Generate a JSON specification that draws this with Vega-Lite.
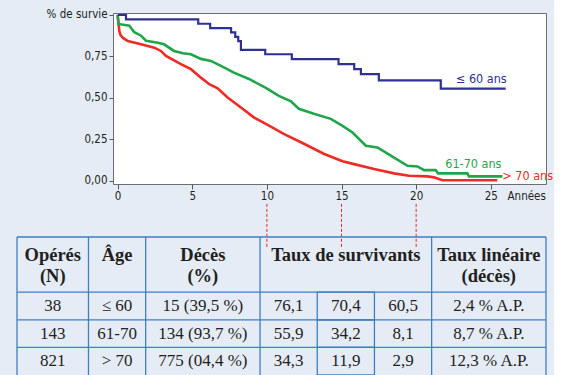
{
  "$schema": "https://vega.github.io/schema/vega-lite/v6.json",
  "background": "#e5ecf6",
  "padding": {"left": 16, "top": 8, "right": 0, "bottom": 0},
  "autosize": {"type": "pad"},
  "config": {
    "view": {"stroke": null},
    "axis": {
      "labelFont": "Liberation Sans Narrow, DejaVu Sans Condensed, sans-serif",
      "titleFont": "Liberation Sans Narrow, DejaVu Sans Condensed, sans-serif",
      "labelFontSize": 11.5,
      "titleFontSize": 11.5,
      "labelColor": "#231f20",
      "titleColor": "#231f20",
      "tickColor": "#58595b",
      "domain": false,
      "grid": false
    }
  },
  "datasets": {
    "km": [
      {"g": "> 70 ans", "t": 0, "v": 1.0},
      {"g": "> 70 ans", "t": 0.06, "v": 0.952},
      {"g": "> 70 ans", "t": 0.11, "v": 0.904},
      {"g": "> 70 ans", "t": 0.19, "v": 0.88},
      {"g": "> 70 ans", "t": 0.34, "v": 0.863},
      {"g": "> 70 ans", "t": 0.68, "v": 0.843},
      {"g": "> 70 ans", "t": 1.57, "v": 0.823},
      {"g": "> 70 ans", "t": 2.46, "v": 0.803},
      {"g": "> 70 ans", "t": 2.9, "v": 0.783},
      {"g": "> 70 ans", "t": 3.24, "v": 0.753},
      {"g": "> 70 ans", "t": 4.24, "v": 0.703},
      {"g": "> 70 ans", "t": 4.91, "v": 0.673},
      {"g": "> 70 ans", "t": 5.58, "v": 0.622},
      {"g": "> 70 ans", "t": 6.14, "v": 0.582},
      {"g": "> 70 ans", "t": 6.7, "v": 0.558},
      {"g": "> 70 ans", "t": 7.37, "v": 0.502},
      {"g": "> 70 ans", "t": 8.26, "v": 0.442},
      {"g": "> 70 ans", "t": 9.15, "v": 0.381},
      {"g": "> 70 ans", "t": 10.05, "v": 0.337},
      {"g": "> 70 ans", "t": 11.16, "v": 0.281},
      {"g": "> 70 ans", "t": 12.28, "v": 0.232},
      {"g": "> 70 ans", "t": 13.84, "v": 0.161},
      {"g": "> 70 ans", "t": 15.07, "v": 0.117},
      {"g": "> 70 ans", "t": 15.84, "v": 0.1},
      {"g": "> 70 ans", "t": 17.18, "v": 0.07},
      {"g": "> 70 ans", "t": 18.52, "v": 0.044},
      {"g": "> 70 ans", "t": 19.52, "v": 0.03},
      {"g": "> 70 ans", "t": 20.76, "v": 0.026},
      {"g": "> 70 ans", "t": 21.2, "v": 0.02},
      {"g": "> 70 ans", "t": 21.76, "v": 0.003},
      {"g": "> 70 ans", "t": 25.44, "v": 0.003},
      {"g": "61-70 ans", "t": 0, "v": 1.0},
      {"g": "61-70 ans", "t": 0.05, "v": 0.946},
      {"g": "61-70 ans", "t": 0.78, "v": 0.936},
      {"g": "61-70 ans", "t": 1.12, "v": 0.896},
      {"g": "61-70 ans", "t": 1.57, "v": 0.875},
      {"g": "61-70 ans", "t": 1.9, "v": 0.845},
      {"g": "61-70 ans", "t": 2.7, "v": 0.833},
      {"g": "61-70 ans", "t": 3.11, "v": 0.823},
      {"g": "61-70 ans", "t": 3.78, "v": 0.783},
      {"g": "61-70 ans", "t": 4.38, "v": 0.769},
      {"g": "61-70 ans", "t": 4.91, "v": 0.763},
      {"g": "61-70 ans", "t": 5.58, "v": 0.735},
      {"g": "61-70 ans", "t": 6.25, "v": 0.723},
      {"g": "61-70 ans", "t": 6.92, "v": 0.693},
      {"g": "61-70 ans", "t": 7.79, "v": 0.652},
      {"g": "61-70 ans", "t": 8.8, "v": 0.614},
      {"g": "61-70 ans", "t": 9.93, "v": 0.56},
      {"g": "61-70 ans", "t": 10.8, "v": 0.512},
      {"g": "61-70 ans", "t": 11.61, "v": 0.479},
      {"g": "61-70 ans", "t": 12.14, "v": 0.434},
      {"g": "61-70 ans", "t": 13.15, "v": 0.404},
      {"g": "61-70 ans", "t": 14.28, "v": 0.373},
      {"g": "61-70 ans", "t": 15.07, "v": 0.331},
      {"g": "61-70 ans", "t": 15.74, "v": 0.291},
      {"g": "61-70 ans", "t": 16.63, "v": 0.211},
      {"g": "61-70 ans", "t": 17.41, "v": 0.201},
      {"g": "61-70 ans", "t": 18.3, "v": 0.151},
      {"g": "61-70 ans", "t": 19.42, "v": 0.09},
      {"g": "61-70 ans", "t": 20.09, "v": 0.086},
      {"g": "61-70 ans", "t": 20.53, "v": 0.064},
      {"g": "61-70 ans", "t": 21.31, "v": 0.064},
      {"g": "61-70 ans", "t": 21.47, "v": 0.044},
      {"g": "61-70 ans", "t": 23.43, "v": 0.044},
      {"g": "61-70 ans", "t": 23.54, "v": 0.026},
      {"g": "61-70 ans", "t": 25.78, "v": 0.026},
      {"g": "≤ 60 ans", "t": 0, "v": 1.0},
      {"g": "≤ 60 ans", "t": 0.56, "v": 0.974},
      {"g": "≤ 60 ans", "t": 5.4, "v": 0.947},
      {"g": "≤ 60 ans", "t": 6.2, "v": 0.921},
      {"g": "≤ 60 ans", "t": 7.6, "v": 0.895},
      {"g": "≤ 60 ans", "t": 7.88, "v": 0.868},
      {"g": "≤ 60 ans", "t": 8.08, "v": 0.842},
      {"g": "≤ 60 ans", "t": 8.26, "v": 0.789},
      {"g": "≤ 60 ans", "t": 9.89, "v": 0.763},
      {"g": "≤ 60 ans", "t": 11.67, "v": 0.734},
      {"g": "≤ 60 ans", "t": 14.8, "v": 0.704},
      {"g": "≤ 60 ans", "t": 15.85, "v": 0.673},
      {"g": "≤ 60 ans", "t": 16.3, "v": 0.643},
      {"g": "≤ 60 ans", "t": 17.5, "v": 0.605},
      {"g": "≤ 60 ans", "t": 21.65, "v": 0.556},
      {"g": "≤ 60 ans", "t": 26.0, "v": 0.556}
    ]
  },
  "spacing": 224,
  "bounds": "flush",
  "vconcat": [
    {
      "spacing": 0,
      "bounds": "flush",
      "hconcat": [
        {
          "width": 96,
          "height": 171,
          "view": {"stroke": null, "fill": null},
          "data": {"values": []},
          "mark": "point",
          "encoding": {}
        },
        {
          "width": 433,
          "height": 171,
          "view": {"fill": "#ffffff", "stroke": "#6d6e71", "strokeWidth": 1},
          "layer": [
            {
              "data": {"values": [{"t": 10}, {"t": 15}, {"t": 20}]},
              "mark": {"type": "rule", "color": "#e8262b", "strokeWidth": 1, "strokeDash": [3, 2], "clip": false},
              "encoding": {
                "x": {
                  "field": "t",
                  "type": "quantitative",
                  "scale": {"domain": [-0.31, 28.7], "nice": false, "zero": false},
                  "axis": {
                    "values": [0, 5, 10, 15, 20, 25],
                    "tickSize": 5,
                    "labelPadding": 1,
                    "title": "Années",
                    "titleFontWeight": "normal",
                    "titleAnchor": "start",
                    "titleAlign": "left",
                    "titleBaseline": "top",
                    "titleX": 394,
                    "titleY": 6,
                    "titleAngle": 0
                  }
                },
                "y": {
                  "datum": -0.14,
                  "type": "quantitative",
                  "scale": {"domain": [-0.02, 1.012], "nice": false, "zero": false},
                  "axis": {
                    "values": [0, 0.25, 0.5, 0.75, 1],
                    "tickSize": 4,
                    "labelPadding": 2,
                    "title": null,
                    "labelExpr": "datum.value == 1 ? '% de survie' : replace(format(datum.value, '.2f'), '.', ',')"
                  }
                },
                "y2": {"datum": -0.41}
              }
            },
            {
              "data": {"name": "km"},
              "transform": [{"filter": "datum.g != '≤ 60 ans'"}],
              "mark": {"type": "line", "strokeWidth": 2.6, "interpolate": "linear"},
              "encoding": {
                "x": {"field": "t", "type": "quantitative"},
                "y": {"field": "v", "type": "quantitative"},
                "color": {
                  "field": "g",
                  "type": "nominal",
                  "scale": {"domain": ["≤ 60 ans", "61-70 ans", "> 70 ans"], "range": ["#2e3192", "#1fa64a", "#ee2b24"]},
                  "legend": null
                }
              }
            },
            {
              "data": {"name": "km"},
              "transform": [{"filter": "datum.g == '≤ 60 ans'"}],
              "mark": {"type": "line", "strokeWidth": 2.2, "interpolate": "step-after", "color": "#2e3192"},
              "encoding": {
                "x": {"field": "t", "type": "quantitative"},
                "y": {"field": "v", "type": "quantitative"}
              }
            },
            {
              "data": {"name": "km"},
              "transform": [
                {"filter": "datum.g == '≤ 60 ans'"},
                {"joinaggregate": [{"op": "max", "field": "t", "as": "tmax"}]},
                {"filter": "datum.t == datum.tmax"}
              ],
              "mark": {"type": "text", "align": "right", "baseline": "middle", "dx": 1, "dy": -9.5, "font": "Liberation Sans Narrow, DejaVu Sans Condensed, sans-serif", "fontSize": 12.5, "color": "#2e3192"},
              "encoding": {
                "x": {"field": "t", "type": "quantitative"},
                "y": {"field": "v", "type": "quantitative"},
                "text": {"field": "g"}
              }
            },
            {
              "data": {"name": "km"},
              "transform": [
                {"filter": "datum.g == '61-70 ans'"},
                {"joinaggregate": [{"op": "max", "field": "t", "as": "tmax"}]},
                {"filter": "datum.t == datum.tmax"}
              ],
              "mark": {"type": "text", "align": "right", "baseline": "middle", "dx": -1, "dy": -12, "font": "Liberation Sans Narrow, DejaVu Sans Condensed, sans-serif", "fontSize": 12.5, "color": "#1fa64a"},
              "encoding": {
                "x": {"field": "t", "type": "quantitative"},
                "y": {"field": "v", "type": "quantitative"},
                "text": {"field": "g"}
              }
            },
            {
              "data": {"name": "km"},
              "transform": [
                {"filter": "datum.g == '> 70 ans'"},
                {"joinaggregate": [{"op": "max", "field": "t", "as": "tmax"}]},
                {"filter": "datum.t == datum.tmax"}
              ],
              "mark": {"type": "text", "align": "left", "baseline": "middle", "dx": 5, "dy": -4, "font": "Liberation Sans Narrow, DejaVu Sans Condensed, sans-serif", "fontSize": 12.5, "color": "#ee2b24"},
              "encoding": {
                "x": {"field": "t", "type": "quantitative"},
                "y": {"field": "v", "type": "quantitative"},
                "text": {"field": "g"}
              }
            }
          ]
        }
      ]
    },
    {
      "width": 529,
      "height": 138,
      "view": {"stroke": null, "fill": null},
      "layer": [
        {
          "data": {"values": [{"c": 0}, {"c": 5}, {"c": 9}, {"c": 17}, {"c": 29}, {"c": 37}]},
          "mark": {"type": "rule", "color": "#3f7fc2", "strokeWidth": 1.3},
          "encoding": {
            "x": {"field": "c", "type": "quantitative", "scale": {"domain": [0, 37], "nice": false, "zero": false}, "axis": null}
          }
        },
        {
          "data": {"values": [{"r": "h"}, {"r": "r1"}, {"r": "r2"}, {"r": "r3"}]},
          "mark": {"type": "rule", "color": "#3f7fc2", "strokeWidth": 1.3},
          "encoding": {
            "y": {"field": "r", "type": "ordinal", "bandPosition": 0, "scale": {"domain": ["h", "h2", "r1", "r2", "r3"], "paddingInner": 0, "paddingOuter": 0}, "axis": null}
          }
        },
        {
          "data": {"values": [{"r": "r1"}, {"r": "r2"}, {"r": "r3"}]},
          "mark": {"type": "rect", "fill": null, "stroke": "#3f7fc2", "strokeWidth": 1.3},
          "encoding": {
            "x": {"datum": 21, "type": "quantitative"},
            "x2": {"datum": 25},
            "y": {"field": "r", "type": "ordinal", "axis": null}
          }
        },
        {
          "data": {"values": [
            {"r": "h", "c": 2.5, "t": "Opérés\n(N)"},
            {"r": "h", "c": 7, "t": "Âge"},
            {"r": "h", "c": 13, "t": "Décès\n(%)"},
            {"r": "h", "c": 23, "t": "Taux de survivants"},
            {"r": "h", "c": 33, "t": "Taux linéaire\n(décès)"}
          ]},
          "mark": {"type": "text", "font": "Liberation Serif", "fontSize": 18.5, "fontWeight": "bold", "lineBreak": "\n", "lineHeight": 21, "baseline": "top", "dy": 9, "color": "#231f20"},
          "encoding": {
            "x": {"field": "c", "type": "quantitative"},
            "y": {"field": "r", "type": "ordinal", "bandPosition": 0, "axis": null},
            "text": {"field": "t"}
          }
        },
        {
          "data": {"values": [
            {"r": "r1", "c": 2.5, "t": "38"},
            {"r": "r1", "c": 7, "t": "≤ 60"},
            {"r": "r1", "c": 13, "t": "15 (39,5 %)"},
            {"r": "r1", "c": 19, "t": "76,1"},
            {"r": "r1", "c": 23, "t": "70,4"},
            {"r": "r1", "c": 27, "t": "60,5"},
            {"r": "r1", "c": 33, "t": "2,4 % A.P."},
            {"r": "r2", "c": 2.5, "t": "143"},
            {"r": "r2", "c": 7, "t": "61-70"},
            {"r": "r2", "c": 13, "t": "134 (93,7 %)"},
            {"r": "r2", "c": 19, "t": "55,9"},
            {"r": "r2", "c": 23, "t": "34,2"},
            {"r": "r2", "c": 27, "t": "8,1"},
            {"r": "r2", "c": 33, "t": "8,7 % A.P."},
            {"r": "r3", "c": 2.5, "t": "821"},
            {"r": "r3", "c": 7, "t": "> 70"},
            {"r": "r3", "c": 13, "t": "775 (04,4 %)"},
            {"r": "r3", "c": 19, "t": "34,3"},
            {"r": "r3", "c": 23, "t": "11,9"},
            {"r": "r3", "c": 27, "t": "2,9"},
            {"r": "r3", "c": 33, "t": "12,3 % A.P."}
          ]},
          "mark": {"type": "text", "font": "Liberation Serif", "fontSize": 17, "baseline": "middle", "color": "#231f20"},
          "encoding": {
            "x": {"field": "c", "type": "quantitative"},
            "y": {"field": "r", "type": "ordinal", "axis": null},
            "text": {"field": "t"}
          }
        }
      ]
    }
  ]
}
